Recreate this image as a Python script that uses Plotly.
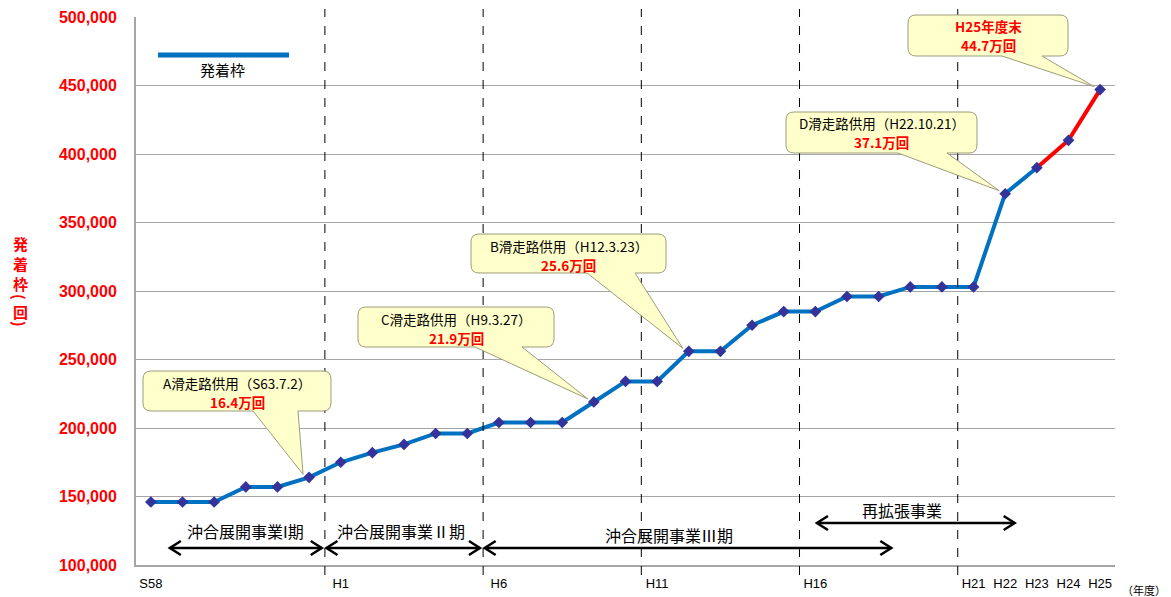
import plotly.graph_objects as go

# 年度ラベルと発着枠（回）
years = ["S58", "S59", "S60", "S61", "S62", "S63",
         "H1", "H2", "H3", "H4", "H5", "H6", "H7", "H8", "H9", "H10",
         "H11", "H12", "H13", "H14", "H15", "H16", "H17", "H18", "H19", "H20",
         "H21", "H22", "H23", "H24", "H25"]
slots = [146000, 146000, 146000, 157000, 157000, 164000,
         175000, 182000, 188000, 196000, 196000, 204000, 204000, 204000, 219000, 234000,
         234000, 256000, 256000, 275000, 285000, 285000, 296000, 296000, 303000, 303000,
         303000, 371000, 390000, 410000, 447000]

tick_years = ["S58", "H1", "H6", "H11", "H16", "H21", "H22", "H23", "H24", "H25"]
period_starts = ["H1", "H6", "H11", "H16", "H21"]   # 区切り線（前年度との境）
plan_from = "H23"                                   # 赤線で描く区間の開始

# 吹き出し
callouts = [
    dict(year="S63", title="A滑走路供用（S63.7.2）", box=(143, 371, 331, 411), base=(253, 298)),
    dict(year="H9", title="C滑走路供用（H9.3.27）", box=(358, 307, 554, 347), base=(475, 522)),
    dict(year="H12", title="B滑走路供用（H12.3.23）", box=(471, 234, 666, 273), base=(587, 635)),
    dict(year="H22", title="D滑走路供用（H22.10.21）", box=(786, 112, 977, 153), base=(898, 947)),
    dict(year="H25", title="H25年度末", box=(908, 15, 1068, 56), base=(1002, 1042), red=True),
]

# 事業期間の矢印 (ラベル, 開始, 終了, 矢印の高さpx, ラベル中心px, ラベル高さpx)
phases = [
    ("沖合展開事業I期", 0.6, 5.4, 548, 245, 531),
    ("沖合展開事業Ⅱ期", 5.55, 10.4, 548, 401, 531),
    ("沖合展開事業Ⅲ期", 10.55, 23.4, 548, 669, 535),
    ("再拡張事業", 21.05, 27.3, 523, 902, 510),
]

W, H = 1171, 597
L, R, T, B = 136, 1115, 17, 565
XR = (-0.47, 30.47)
YR = (100000, 500000)

JP = "Noto Sans CJK JP, Liberation Sans, sans-serif"
LAT = "Liberation Sans, Arial, sans-serif"
BLUE = "#0070C0"
RED = "#FF0000"


def px_x(i):
    return L + (i - XR[0]) / (XR[1] - XR[0]) * (R - L)


def px_y(v):
    return B - (v - YR[0]) / (YR[1] - YR[0]) * (B - T)


def pp(px, py):
    return f"{(px - L) / (R - L):.5f},{(B - py) / (B - T):.5f}"


def fx(px):
    return (px - L) / (R - L)


def fy(py):
    return (B - py) / (B - T)


idx = list(range(len(years)))
k = years.index(plan_from)

fig = go.Figure()
fig.add_trace(go.Scatter(x=idx[:k + 1], y=slots[:k + 1], mode="lines",
                         line=dict(color=BLUE, width=4), hoverinfo="skip", showlegend=False))
fig.add_trace(go.Scatter(x=idx[k:], y=slots[k:], mode="lines",
                         line=dict(color=RED, width=4), hoverinfo="skip", showlegend=False))
fig.add_trace(go.Scatter(x=idx, y=slots, mode="markers",
                         marker=dict(symbol="diamond", size=9, color="#333399"),
                         showlegend=False))

shapes = []
annotations = []

# 区切り線
for y in period_starts:
    xp = fx(px_x(years.index(y) - 0.5))
    shapes.append(dict(type="line", xref="paper", yref="paper", x0=xp, x1=xp,
                       y0=fy(575), y1=fy(9), line=dict(color="black", width=1, dash="dash"),
                       layer="above"))

# 吹き出し
r = 8
for c in callouts:
    i = years.index(c["year"])
    v = slots[i]
    tx, ty = px_x(i) - 6, px_y(v) - 3
    x0, y0, x1, y1 = c["box"]
    b0, b1 = c["base"]
    path = (f"M {pp(x0 + r, y0)} L {pp(x1 - r, y0)} Q {pp(x1, y0)} {pp(x1, y0 + r)} "
            f"L {pp(x1, y1 - r)} Q {pp(x1, y1)} {pp(x1 - r, y1)} "
            f"L {pp(b1, y1)} L {pp(tx, ty)} L {pp(b0, y1)} "
            f"L {pp(x0 + r, y1)} Q {pp(x0, y1)} {pp(x0, y1 - r)} "
            f"L {pp(x0, y0 + r)} Q {pp(x0, y0)} {pp(x0 + r, y0)} Z")
    shapes.append(dict(type="path", xref="paper", yref="paper", path=path,
                       fillcolor="#FFFFCC", line=dict(color="#9C9C7C", width=1), layer="above"))
    cx = (x0 + x1) / 2
    red = c.get("red", False)
    annotations.append(dict(xref="paper", yref="paper", x=fx(cx), y=fy(y0 + 11.5),
                            text=c["title"], showarrow=False, xanchor="center", yanchor="middle",
                            font=dict(family=JP, size=13.5, color=RED if red else "black",
                                      weight="bold" if red else "normal")))
    annotations.append(dict(xref="paper", yref="paper", x=fx(cx), y=fy(y0 + 30.5),
                            text=f"{v / 10000:.1f}万回", showarrow=False,
                            xanchor="center", yanchor="middle",
                            font=dict(family=JP, size=13.5, color=RED, weight="bold")))

# 事業期間の矢印
for label, s, e, ay, lx, ly in phases:
    xs, xe = px_x(s), px_x(e)
    shapes.append(dict(type="line", xref="paper", yref="paper", x0=fx(xs), x1=fx(xe),
                       y0=fy(ay), y1=fy(ay), line=dict(color="black", width=2.5), layer="above"))
    for path in (f"M {pp(xs + 11, ay - 7)} L {pp(xs, ay)} L {pp(xs + 11, ay + 7)}",
                 f"M {pp(xe - 11, ay - 7)} L {pp(xe, ay)} L {pp(xe - 11, ay + 7)}"):
        shapes.append(dict(type="path", xref="paper", yref="paper", path=path,
                           line=dict(color="black", width=2.5), layer="above"))
    annotations.append(dict(xref="paper", yref="paper", x=fx(lx), y=fy(ly), text=label,
                            showarrow=False, xanchor="center", yanchor="middle",
                            font=dict(family=JP, size=16, color="black")))

# 凡例
shapes.append(dict(type="line", xref="paper", yref="paper", x0=fx(158), x1=fx(289),
                   y0=fy(55), y1=fy(55), line=dict(color=BLUE, width=5), layer="above"))
annotations.append(dict(xref="paper", yref="paper", x=fx(222), y=fy(70), text="発着枠",
                        showarrow=False, xanchor="center", yanchor="middle",
                        font=dict(family=JP, size=15, color="black")))

# 縦軸タイトル（縦書き、括弧は回転して表示）
for ch, py, ang in zip(["発", "着", "枠", "(", "回", ")"],
                       [243, 263, 283, 297, 311, 324],
                       [0, 0, 0, 90, 0, 90]):
    annotations.append(dict(xref="paper", yref="paper", x=fx(20), y=fy(py), text=ch,
                            textangle=ang, showarrow=False, xanchor="center", yanchor="middle",
                            font=dict(family=JP, size=15, color=RED, weight="bold")))

# 単位
annotations.append(dict(xref="paper", yref="paper", x=fx(1144), y=fy(590), text="（年度）",
                        showarrow=False, xanchor="center", yanchor="middle",
                        font=dict(family=JP, size=11, color="black")))

fig.update_layout(
    width=W, height=H,
    margin=dict(l=L, r=W - R, t=T, b=H - B, pad=0, autoexpand=False),
    paper_bgcolor="white", plot_bgcolor="white",
    shapes=shapes, annotations=annotations,
    xaxis=dict(range=list(XR), tickmode="array", automargin=False,
               tickvals=[years.index(t) for t in tick_years], ticktext=tick_years,
               showgrid=False, zeroline=False, showline=True, linecolor="#A6A6A6", linewidth=2,
               ticks="outside", ticklen=5, tickcolor="rgba(0,0,0,0)",
               tickfont=dict(family=LAT, size=13, color="black")),
    yaxis=dict(range=list(YR), dtick=50000, tickformat=",d", automargin=False,
               showgrid=True, gridcolor="#A6A6A6", gridwidth=1, zeroline=False,
               showline=True, linecolor="#A6A6A6", linewidth=2,
               ticks="outside", ticklen=14, tickcolor="rgba(0,0,0,0)",
               tickfont=dict(family=LAT, size=16, color=RED, weight="bold")),
)

fig.write_html("out.html")
